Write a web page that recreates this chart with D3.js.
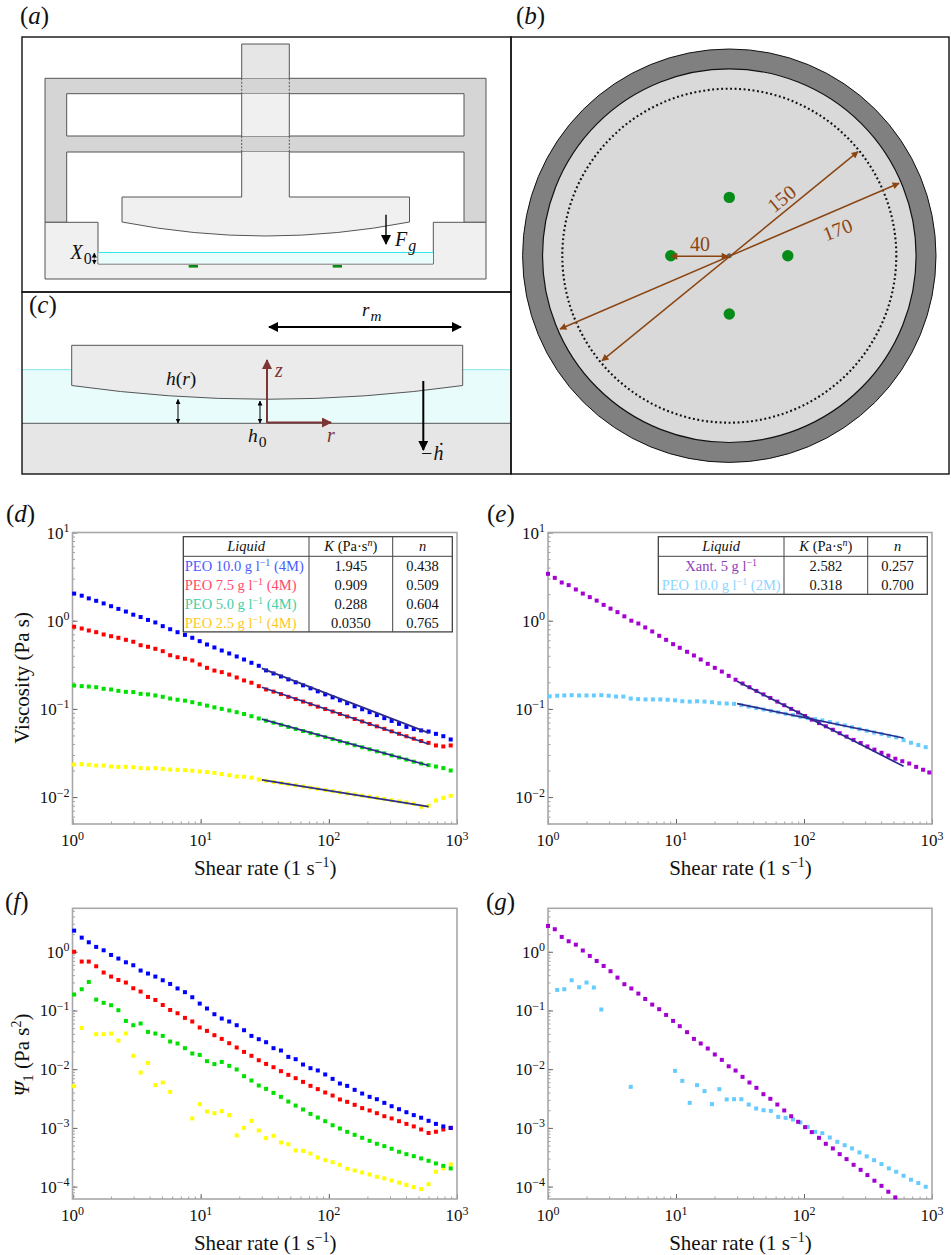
<!DOCTYPE html>
<html>
<head>
<meta charset="utf-8">
<script src="https://cdn.jsdelivr.net/npm/d3@7/dist/d3.min.js"></script>
<style>
	html, body { margin: 0; padding: 0; background: #fff; }
	svg { display: block; }
	text { font-family: "Liberation Serif", serif; fill: #111; }
	.minor line { stroke: #777; stroke-width: 0.7; }
	.major line { stroke: #555; stroke-width: 0.9; }
	.axis path { display: none; }
</style>
</head>
<body>
<svg width="951" height="1255"></svg>
<script>
// shear rate grids (1/s)
var shearRates = [1.03,1.18,1.34,1.53,1.75,2.0,2.28,2.61,2.98,3.4,3.88,4.43,5.06,5.78,6.6,7.54,8.6,9.83,11.2,12.8,14.6,16.7,19.1,21.8,24.9,28.4,32.4,37,42.3,48.3,55.1,62.9,71.9,82,93.7,107,122,139,159,182,208,237,271,309,353,403,460,525,600,685,782,893];
var xantRates = [1.0,1.13,1.28,1.45,1.65,1.87,2.12,2.4,2.72,3.08,3.49,3.95,4.48,5.08,5.75,6.52,7.39,8.37,9.49,10.7,12.2,13.8,15.6,17.7,20.1,22.8,25.8,29.2,33.1,37.5,42.5,48.2,54.6,61.9,70.1,79.4,90,102,115,131,148,168,190,215,244,277,313,355,403,456,517,586,664,752,852,953];

// viscosity, panel (d)
var viscPeo10 = [2.03,1.92,1.79,1.68,1.57,1.46,1.36,1.27,1.17,1.10,1.02,.955,.867,.80,.74,.69,.64,.586,.537,.497,.459,.425,.393,.363,.333,.308,.273,.252,.233,.216,.200,.185,.171,.158,.146,.135,.125,.116,.107,.0990,.0917,.0850,.0785,.0730,.0676,.0625,.0590,.0570,.0554,.0521,.049,.045];
var viscPeo75 = [.853,.816,.774,.741,.698,.667,.640,.607,.577,.527,.506,.480,.451,.406,.385,.370,.354,.319,.292,.272,.261,.245,.227,.210,.198,.181,.166,.157,.147,.137,.129,.121,.113,.106,.0995,.0933,.0875,.0820,.0768,.0720,.0675,.0633,.0593,.0556,.0522,.0489,.0459,.0432,.0412,.0385,.0375,.0385];
var viscPeo50 = [.184,.181,.179,.176,.169,.166,.160,.156,.155,.148,.146,.142,.137,.131,.127,.124,.119,.114,.109,.104,.100,.0959,.0917,.0875,.0826,.0778,.0735,.0698,.0660,.0623,.0592,.0561,.0531,.0504,.0478,.0454,.0430,.0408,.0387,.0367,.0348,.0330,.0313,.0297,.0281,.0266,.0252,.0240,.0230,.0222,.0213,.0200];
var viscPeo25 = [.0234,.0236,.0232,.0228,.0228,.0222,.0220,.0220,.0218,.0213,.0211,.0213,.0209,.0205,.0204,.0202,.0199,.0195,.0192,.0188,.0182,.0177,.0171,.0170,.0166,.0158,.0153,.0148,.0144,.0140,.0136,.0132,.0128,.0124,.0120,.0117,.0113,.0110,.0107,.0104,.0101,.00980,.00950,.00920,.00893,.00868,.00838,.00776,.00796,.00914,.0098,.01035];

// viscosity, panel (e)
var viscXant = [3.40,3.06,2.71,2.53,2.26,2.03,1.85,1.69,1.51,1.37,1.25,1.12,1.00,.929,.838,.755,.674,.607,.542,.493,.444,.403,.363,.324,.292,.265,.237,.214,.194,.176,.160,.146,.133,.121,.110,.100,.0910,.0830,.0755,.0690,.0635,.0580,.0530,.0485,.0445,.0410,.0375,.0345,.0318,.0295,.0272,.0255,.0240,.0220,.0204,.0190];
var viscPeo2M = [.139,.141,.142,.143,.142,.142,.142,.143,.141,.138,.138,.131,.129,.128,.128,.128,.127,.125,.122,.121,.122,.121,.119,.116,.115,.114,.110,.106,.102,.0985,.0950,.0915,.0880,.0850,.0815,.0785,.0765,.0740,.0710,.0680,.0650,.0620,.0590,.0565,.0540,.0520,.0495,.0475,.0442,.0413,.0389,.0368];

// normal stress coefficient, panel (f)
var psiPeo10 = [2.29,1.74,1.45,1.21,1.06,.883,.766,.662,.589,.479,.426,.378,.327,.283,.237,.205,.168,.131,.108,.0863,.0729,.0649,.0561,.0461,.0369,.0324,.0288,.0228,.0208,.0162,.0148,.0120,.0104,.00951,.00813,.00684,.00570,.00520,.00445,.00385,.00338,.00308,.00267,.00234,.00208,.00185,.00165,.00149,.00132,.00117,.00106,.00100];
var psiPeo75 = [1.0,.681,.681,.566,.443,.378,.331,.299,.239,.210,.170,.151,.124,.102,.0897,.0748,.0649,.0513,.0449,.0379,.0328,.0277,.0234,.0197,.0169,.0142,.0123,.0108,.00925,.00801,.00703,.00608,.00520,.00457,.00401,.00356,.00305,.00278,.00247,.00217,.00198,.00178,.00158,.00145,.00130,.00117,.00106,.00094,.00082,.00086,.00094,.00100];
var psiPeo50 = [.187,.230,.306,.153,.135,.123,.101,.0664,.0561,.0600,.0432,.0405,.0369,.0296,.0274,.0228,.0185,.0175,.0137,.0122,.0133,.0114,.00989,.00760,.00641,.00527,.00462,.00395,.00338,.00281,.00240,.00206,.00173,.00150,.00130,.00111,.000977,.000857,.000762,.000678,.000603,.000536,.000489,.000441,.000392,.000357,.000330,.000302,.000275,.000248,.000226,.000204];
var psiPeo25 = [.00514,.0505,null,.0394,.0394,.0405,.0308,.0405,.0169,.00877,.0128,.00535,.00593,.00411,null,null,.00145,.00254,.00190,.00178,.00193,.00165,.000745,.00100,.00132,.000904,.000670,.000733,.000565,.000528,.000413,.000407,.000366,.000313,.000282,.000261,.000235,.000201,.000188,.000174,.000161,.000147,.000138,.000127,.000117,.000107,.0000980,.0000906,.000110,.000179,.000204,.000239];

// normal stress coefficient, panel (g)
var psiXant = [2.75,2.42,1.79,1.51,1.32,1.05,.849,.697,.573,.466,.363,.280,.237,.194,.157,.126,.105,.0840,.0664,.0540,.0427,.0328,.0274,.0225,.0178,.0144,.0112,.00948,.00740,.00593,.00481,.00375,.00313,.00250,.00198,.00158,.00127,.00103,.000847,.000678,.000536,.000447,.000357,.000294,.000235,.000193,.000157,.000126,.000103,.0000817,.0000655];
var psiPeo2M = [null,.224,.230,.327,.249,.299,.246,.104,null,null,null,.00500,null,null,null,null,null,.00935,.00632,.00267,.00535,.00423,.00254,.00457,.00305,.00308,.00308,.00250,.00214,.00200,.00195,.00154,.00148,.00139,.00124,.00104,.000857,.000814,.000687,.000579,.000508,.000447,.000382,.000327,.000282,.000242,.000204,.000179,.000153,.000131,.000115,.0000993];

// power law fits, drawn between two shear rates
var fitRange = [30, 600];
var fitPeo10 = [.288, .0535];
var fitPeo75 = [.176, .0400];
var fitPeo50 = [.0765, .0228];
var fitPeo25 = [.0157, .00779];
var fitXant = [.206, .0223];
var fitPeo2M = [.1146, .0467];

// tables
var tableLiquidsD = ["PEO 10.0 g l", "PEO 7.5 g l", "PEO 5.0 g l", "PEO 2.5 g l"];
var tableSuffixD = [" (4M)", " (4M)", " (4M)", " (4M)"];
var tableKD = ["1.945", "0.909", "0.288", "0.0350"];
var tableND = ["0.438", "0.509", "0.604", "0.765"];
var tableColorsD = ["#4a5cff", "#ff4a68", "#44d0a4", "#ffc81e"];
var tableLiquidsE = ["Xant. 5 g l", "PEO 10.0 g l"];
var tableSuffixE = ["", " (2M)"];
var tableKE = ["2.582", "0.318"];
var tableNE = ["0.257", "0.700"];
var tableColorsE = ["#8e3db8", "#8fd6ff"];

var xTicks = [1, 10, 100, 1000];
var xTickLabels = ["0", "1", "2", "3"];
var viscTicks = [10, 1, 0.1, 0.01];
var viscTickLabels = ["1", "0", "\u22121", "\u22122"];
var psiTicks = [1, 0.1, 0.01, 0.001, 0.0001];
var psiTickLabels = ["0", "\u22121", "\u22122", "\u22123", "\u22124"];

var BLUE = "#0000ff", RED = "#ff0000", GREEN = "#00e000", YELLOW = "#ffff00", PURPLE = "#a300d1", SKY = "#66ccff";
var FIT = "#2c2c8c", BROWN = "#8b4513", MAROON = "#7d3535", PANEL_LINE = "#555";
var TABLE_FONT = "14.5px";

var svg = d3.select("svg");

var defs = svg.append("defs");
function add_marker(id, color, w, h){
	defs.append("marker")
		.attr("id", id)
		.attr("viewBox", "0 0 10 10")
		.attr("refX", 9).attr("refY", 5)
		.attr("markerUnits", "userSpaceOnUse")
		.attr("markerWidth", w).attr("markerHeight", h)
		.attr("orient", "auto-start-reverse")
		.append("path")
			.attr("d", "M0,0 L10,5 L0,10 Z")
			.attr("fill", color);
}
add_marker("ah-black", "#000", 11, 10);
add_marker("ah-small", "#000", 5, 5);
add_marker("ah-brown", BROWN, 8, 7);
add_marker("ah-maroon", MAROON, 11, 10);

/** Text with an italic letter between upright brackets, like (a) **/
function panel_label(x, y, letter){
	var t = svg.append("text").attr("x", x).attr("y", y).style("font-size", "25px");
	t.append("tspan").text("(");
	t.append("tspan").style("font-style", "italic").text(letter);
	t.append("tspan").text(")");
}

function italic_sub(x, y, main, sub, size, color){
	var t = svg.append("text").attr("x", x).attr("y", y).style("font-size", size + "px").style("font-style", "italic");
	if(color) t.style("fill", color);
	t.append("tspan").text(main);
	t.append("tspan").attr("dx", 1).attr("dy", 5).style("font-size", (size * 0.8) + "px").style("font-style", sub === "0" ? "normal" : "italic").text(sub);
}

function line(x1, y1, x2, y2, color, w){
	return svg.append("line")
		.attr("x1", x1).attr("y1", y1).attr("x2", x2).attr("y2", y2)
		.attr("stroke", color).attr("stroke-width", w);
}

function box(x, y, w, h, fill, stroke){
	return svg.append("rect").attr("x", x).attr("y", y).attr("width", w).attr("height", h)
		.attr("fill", fill).attr("stroke", stroke || "none").attr("stroke-width", 1);
}

/** Panel (a): side view of the rig **/
function draw_panel_a(){
	var frame = "M45,222.3 V78.3 H486 V222.3 H464 V152 H66.7 V222.3 Z M66.7,93.7 H464 V136 H66.7 Z";
	svg.append("path").attr("d", frame).attr("fill", "#d5d5d5").attr("fill-rule", "evenodd")
		.attr("stroke", PANEL_LINE).attr("stroke-width", 1);

	// spindle
	box(241.7, 44, 47.6, 34.3, "#e6e6e6");
	box(241.7, 93.7, 47.6, 42.3, "#f0f0f0");
	box(241.7, 152, 47.6, 46, "#f0f0f0");
	svg.append("path").attr("d", "M241.7,78.3 V44 H289.3 V78.3").attr("fill", "none").attr("stroke", PANEL_LINE);
	svg.append("path").attr("d", "M241.7,93.7 V136 M289.3,93.7 V136").attr("fill", "none").attr("stroke", PANEL_LINE);
	svg.append("path").attr("d", "M241.7,78.3 V93.7 M289.3,78.3 V93.7 M241.7,136 V152 M289.3,136 V152")
		.attr("fill", "none").attr("stroke", PANEL_LINE).attr("stroke-dasharray", "2,1.5");
	svg.append("path").attr("d", "M241.7,152 V197 H122 V222 Q265.7,250 409.5,222 V197 H289.3 V152")
		.attr("fill", "#f0f0f0").attr("stroke", PANEL_LINE);

	// tank and liquid
	svg.append("path").attr("d", "M45,222.3 H98 V264 H433.3 V222.3 H486 V279 H45 Z")
		.attr("fill", "#f0f0f0").attr("stroke", PANEL_LINE);
	box(98.5, 252.5, 334.5, 11, "#eafdfd");
	line(98.5, 252.5, 433, 252.5, "#33e6e6", 1.2);
	box(188.7, 265, 9.3, 2.6, "#0a8a14");
	box(332.7, 265, 9.3, 2.6, "#0a8a14");

	line(386, 214.7, 386, 244, "#000", 1.4).attr("marker-end", "url(#ah-black)");
	italic_sub(395, 246, "F", "g", 20);
	italic_sub(70.5, 259, "X", "0", 20);
	line(94.3, 253, 94.3, 264, "#333", 0.7).attr("marker-start", "url(#ah-small)").attr("marker-end", "url(#ah-small)");
}

/** Panel (c): close up of the gap **/
function draw_panel_c(){
	box(22, 369.7, 489, 53.5, "#e9fcfc");
	line(22, 369.7, 511, 369.7, "#80e8ee", 1);
	box(22, 423.3, 489, 50.7, "#e6e6e6");
	line(22, 423.3, 511, 423.3, PANEL_LINE, 1);
	svg.append("path").attr("d", "M71.7,345.3 H462.7 V385.5 Q267,413 71.7,385.5 Z")
		.attr("fill", "#ebebeb").attr("stroke", PANEL_LINE);

	line(269, 327, 461, 327, "#000", 2).attr("marker-start", "url(#ah-black)").attr("marker-end", "url(#ah-black)");
	italic_sub(362, 316, "r", "m", 19);

	line(267, 423, 267, 360, MAROON, 2).attr("marker-end", "url(#ah-maroon)");
	line(267, 422.5, 331, 422.5, MAROON, 2).attr("marker-end", "url(#ah-maroon)");
	svg.append("text").attr("x", 275).attr("y", 377).style("font-size", "20px").style("font-style", "italic").style("fill", MAROON).text("z");
	svg.append("text").attr("x", 327).attr("y", 442).style("font-size", "20px").style("font-style", "italic").style("fill", MAROON).text("r");

	line(178, 399.5, 178, 423, "#000", 1).attr("marker-start", "url(#ah-small)").attr("marker-end", "url(#ah-small)");
	line(260, 401, 260, 423, "#000", 1).attr("marker-start", "url(#ah-small)").attr("marker-end", "url(#ah-small)");

	var hr = svg.append("text").attr("x", 166).attr("y", 385).style("font-size", "19.5px");
	hr.append("tspan").style("font-style", "italic").text("h");
	hr.append("tspan").text("(");
	hr.append("tspan").style("font-style", "italic").text("r");
	hr.append("tspan").text(")");
	italic_sub(248, 442, "h", "0", 19.5);

	line(423.3, 381, 423.3, 450, "#000", 2).attr("marker-end", "url(#ah-black)");
	svg.append("text").attr("x", 420).attr("y", 460).style("font-size", "20px").style("font-style", "italic").text("\u2212\u1E23");
}

/** Panel (b): top view with dimensions **/
function draw_panel_b(){
	var cx = 729.3, cy = 255.7;
	svg.append("circle").attr("cx", cx).attr("cy", cy).attr("r", 206.7).attr("fill", "#808080").attr("stroke", "#111").attr("stroke-width", 1);
	svg.append("circle").attr("cx", cx).attr("cy", cy).attr("r", 186.8).attr("fill", "#d9d9d9").attr("stroke", "#111").attr("stroke-width", 1.2);
	svg.append("circle").attr("cx", cx).attr("cy", cy).attr("r", 167).attr("fill", "none").attr("stroke", "#111")
		.attr("stroke-width", 2.1).attr("stroke-dasharray", "1.9,2.6");

	svg.selectAll("circle.sensor")
		.data([[0, -58.3], [0, 58.3], [-58.5, 0], [58.5, 0]])
		.enter()
		.append("circle")
			.attr("class", "sensor")
			.attr("cx", (d) => cx + d[0])
			.attr("cy", (d) => cy + d[1])
			.attr("r", 5.7)
			.attr("fill", "#078c1a");
	svg.append("circle").attr("cx", cx).attr("cy", cy).attr("r", 2.5).attr("fill", "#5a6a70");

	line(560, 329, 899, 183.3, BROWN, 1.5).attr("marker-start", "url(#ah-brown)").attr("marker-end", "url(#ah-brown)");
	line(602, 360.7, 858, 151.7, BROWN, 1.5).attr("marker-start", "url(#ah-brown)").attr("marker-end", "url(#ah-brown)");
	line(671, 256.3, 728, 256.3, BROWN, 1.5).attr("marker-start", "url(#ah-brown)").attr("marker-end", "url(#ah-brown)");

	svg.append("text").attr("x", 700).attr("y", 251).attr("text-anchor", "middle").style("font-size", "20px").style("fill", BROWN).text("40");
	svg.append("text").attr("transform", "translate(786,204) rotate(-39)").attr("text-anchor", "middle").style("font-size", "20px").style("fill", BROWN).text("150");
	svg.append("text").attr("transform", "translate(840,236) rotate(-21)").attr("text-anchor", "middle").style("font-size", "20px").style("fill", BROWN).text("170");
}

function draw_panel_frames(){
	box(22, 37, 489, 255, "none", "#111").attr("stroke-width", 1.4);
	box(22, 292, 489, 182, "none", "#111").attr("stroke-width", 1.4);
	box(511, 37, 438, 437, "none", "#111").attr("stroke-width", 1.4);
}

/** Appends 10 with a superscript exponent **/
function power_label(x, y, anchor, exponent){
	var t = svg.append("text").attr("x", x).attr("y", y).attr("text-anchor", anchor).style("font-size", "17px");
	t.append("tspan").text("10");
	t.append("tspan").attr("dy", -6.5).style("font-size", "12px").text(exponent);
}

/** One log-log plot. Returns what the caller needs to draw series **/
function setup_plot(border, yDomain, yTicks, yTickLabels){
	var xScale = d3.scaleLog().domain([1, 1000]).range([border.left, border.right]);
	var yScale = d3.scaleLog().domain(yDomain).range([border.bottom, border.top]);

	svg.append("g").attr("class", "axis minor")
		.attr("transform", "translate(0," + border.bottom + ")")
		.call(d3.axisBottom(xScale).tickValues(xScale.ticks()).tickSize(-2.5).tickFormat(""));
	svg.append("g").attr("class", "axis major")
		.attr("transform", "translate(0," + border.bottom + ")")
		.call(d3.axisBottom(xScale).tickValues(xTicks).tickSize(-5).tickFormat(""));
	svg.append("g").attr("class", "axis minor")
		.attr("transform", "translate(" + border.left + ",0)")
		.call(d3.axisLeft(yScale).tickValues(yScale.ticks()).tickSize(-2.5).tickFormat(""));
	svg.append("g").attr("class", "axis major")
		.attr("transform", "translate(" + border.left + ",0)")
		.call(d3.axisLeft(yScale).tickValues(yTicks).tickSize(-5).tickFormat(""));

	svg.append("rect")
		.attr("x", border.left).attr("y", border.top)
		.attr("width", border.right - border.left).attr("height", border.bottom - border.top)
		.attr("fill", "none").attr("stroke", "#a8a8a8").attr("stroke-width", 1.6);

	xTicks.forEach(function(d, i){
		power_label(xScale(d), border.bottom + 22, "middle", xTickLabels[i]);
	});
	yTicks.forEach(function(d, i){
		power_label(border.left - 3, yScale(d) + 6, "end", yTickLabels[i]);
	});

	var t = svg.append("text")
		.attr("x", (border.left + border.right) / 2 + 0.5)
		.attr("y", border.bottom + 51)
		.attr("text-anchor", "middle")
		.style("font-size", "21px");
	t.append("tspan").text("Shear rate (1 s");
	t.append("tspan").attr("dy", -8).style("font-size", "14px").text("\u22121");
	t.append("tspan").attr("dy", 8).text(")");

	return {x: xScale, y: yScale};
}

/** Draws one series of small squares **/
function draw_points(plot, xs, ys, color){
	var size = 4;
	var points = xs.map((d, i) => ({x: d, y: ys[i]})).filter((d) => d.y != null);
	svg.append("g").selectAll("rect")
		.data(points)
		.enter()
		.append("rect")
			.attr("x", (d) => plot.x(d.x) - size / 2)
			.attr("y", (d) => plot.y(d.y) - size / 2)
			.attr("width", size)
			.attr("height", size)
			.attr("fill", color);
}

function draw_fit(plot, ys){
	var path = d3.line().x((d) => plot.x(d)).y((d, i) => plot.y(ys[i]));
	svg.append("path").attr("d", path(fitRange)).attr("fill", "none").attr("stroke", FIT).attr("stroke-width", 1.7);
}

/** The little table at the top of panels (d) and (e) **/
function draw_table(x, y, rowHeight, liquids, suffix, ks, ns, colors, leftAlign){
	var col1 = 125.7, col2 = 209.4, w = 269, head = 19.6;
	var h = head + rowHeight * liquids.length;
	svg.append("rect").attr("x", x).attr("y", y).attr("width", w).attr("height", h)
		.attr("fill", "#fff").attr("stroke", "#333").attr("stroke-width", 1.2);
	line(x, y + head, x + w, y + head, "#444", 1);
	line(x + col1, y, x + col1, y + h, "#444", 1);
	line(x + col2, y, x + col2, y + h, "#444", 1);

	svg.append("text").attr("x", x + col1 / 2).attr("y", y + 14.5).attr("text-anchor", "middle")
		.style("font-size", TABLE_FONT).style("font-style", "italic").text("Liquid");
	var k = svg.append("text").attr("x", x + (col1 + col2) / 2).attr("y", y + 14.5).attr("text-anchor", "middle").style("font-size", TABLE_FONT);
	k.append("tspan").style("font-style", "italic").text("K");
	k.append("tspan").text(" (Pa\u00B7s");
	k.append("tspan").attr("dy", -5).style("font-size", "10px").style("font-style", "italic").text("n");
	k.append("tspan").attr("dy", 5).text(")");
	svg.append("text").attr("x", x + (col2 + w) / 2).attr("y", y + 14.5).attr("text-anchor", "middle")
		.style("font-size", TABLE_FONT).style("font-style", "italic").text("n");

	liquids.forEach(function(d, i){
		var by = y + head + rowHeight * i + 14.5;
		var t = svg.append("text")
			.attr("x", leftAlign ? x + 1.5 : x + col1 / 2)
			.attr("y", by)
			.attr("text-anchor", leftAlign ? "start" : "middle")
			.style("font-size", TABLE_FONT);
		t.append("tspan").style("fill", colors[i]).text(d);
		t.append("tspan").attr("dy", -5).style("font-size", "10px").style("fill", colors[i]).text("\u22121");
		t.append("tspan").attr("dy", 5).style("fill", colors[i]).text(suffix[i]);
		svg.append("text").attr("x", x + (col1 + col2) / 2).attr("y", by).attr("text-anchor", "middle").style("font-size", TABLE_FONT).text(ks[i]);
		svg.append("text").attr("x", x + (col2 + w) / 2).attr("y", by).attr("text-anchor", "middle").style("font-size", TABLE_FONT).text(ns[i]);
	});
}

function draw_plots(){
	var viscBounds = [0.00495, 10];
	var psiBounds = [0.0000615, 5.5];

	// (d)
	var d = setup_plot({top: 532.5, bottom: 824, left: 72.5, right: 457}, viscBounds, viscTicks, viscTickLabels);
	draw_points(d, shearRates, viscPeo10, BLUE);
	draw_points(d, shearRates, viscPeo75, RED);
	draw_points(d, shearRates, viscPeo50, GREEN);
	draw_points(d, shearRates, viscPeo25, YELLOW);
	[fitPeo10, fitPeo75, fitPeo50, fitPeo25].forEach((f) => draw_fit(d, f));
	draw_table(183.3, 536.7, 18.9, tableLiquidsD, tableSuffixD, tableKD, tableND, tableColorsD, true);

	// (e)
	var e = setup_plot({top: 532.5, bottom: 824, left: 548, right: 932}, viscBounds, viscTicks, viscTickLabels);
	draw_points(e, xantRates, viscXant, PURPLE);
	draw_points(e, shearRates, viscPeo2M, SKY);
	[fitXant, fitPeo2M].forEach((f) => draw_fit(e, f));
	draw_table(658.3, 536.7, 19, tableLiquidsE, tableSuffixE, tableKE, tableNE, tableColorsE, false);

	// (f)
	var f = setup_plot({top: 908.3, bottom: 1199, left: 72.5, right: 457}, psiBounds, psiTicks, psiTickLabels);
	draw_points(f, shearRates, psiPeo25, YELLOW);
	draw_points(f, shearRates, psiPeo50, GREEN);
	draw_points(f, shearRates, psiPeo75, RED);
	draw_points(f, shearRates, psiPeo10, BLUE);

	// (g)
	var g = setup_plot({top: 908.3, bottom: 1199, left: 548, right: 932}, psiBounds, psiTicks, psiTickLabels);
	draw_points(g, shearRates, psiPeo2M, SKY);
	draw_points(g, xantRates.slice(0, psiXant.length), psiXant, PURPLE);

	// y titles
	svg.append("text").attr("transform", "translate(29,678) rotate(-90)").attr("text-anchor", "middle")
		.style("font-size", "21px").text("Viscosity (Pa s)");
	var psi = svg.append("text").attr("transform", "translate(29,1055) rotate(-90)").attr("text-anchor", "middle").style("font-size", "21px");
	psi.append("tspan").style("font-style", "italic").text("\u03A8");
	psi.append("tspan").attr("dy", 4).style("font-size", "15px").text("1");
	psi.append("tspan").attr("dy", -4).text(" (Pa s");
	psi.append("tspan").attr("dy", -8).style("font-size", "14px").text("2");
	psi.append("tspan").attr("dy", 8).text(")");
}

draw_panel_a();
draw_panel_c();
draw_panel_b();
draw_panel_frames();
draw_plots();

panel_label(20, 24, "a");
panel_label(516, 24, "b");
panel_label(29, 313, "c");
panel_label(6, 522, "d");
panel_label(487, 522, "e");
panel_label(5, 910, "f");
panel_label(486, 910, "g");
</script>
</body>
</html>
